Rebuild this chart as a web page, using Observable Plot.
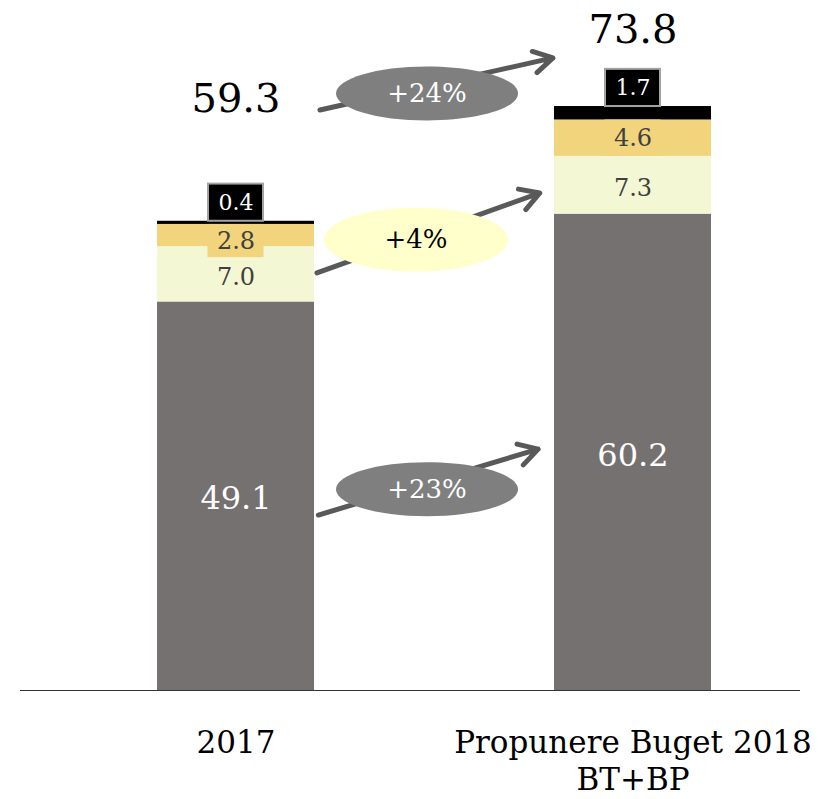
<!DOCTYPE html>
<html><head><meta charset="utf-8">
<script src="https://cdn.jsdelivr.net/npm/d3@7"></script>
<script src="https://cdn.jsdelivr.net/npm/@observablehq/plot@0.6"></script>
<style>body{margin:0;background:#fff} #chart svg{display:block}</style>
</head><body><div id="chart"></div>
<script>
const categories = ["2017", "Propunere Buget 2018\nBT+BP"];
const values2017 = [49.1, 7.0, 2.8, 0.4];
const values2018 = [60.2, 7.3, 4.6, 1.7];
const labels2017 = ["49.1", "7.0", "2.8", "0.4"];
const labels2018 = ["60.2", "7.3", "4.6", "1.7"];
const totals = [59.3, 73.8];
const totalLabels = ["59.3", "73.8"];
const growthLabels = ["+23%", "+4%", "+24%"];
const segmentColors = ["#767171", "#F4F7D4", "#F1D47B", "#000000"];
const labelColors = ["#ffffff", "#404040", "#404040", "#ffffff"];

const FONT = "DejaVu Serif";

// table of stacked segments
const rows = [];
[values2017, values2018].forEach((vals, i) => {
  let acc = 0;
  vals.forEach((v, j) => {
    rows.push({cat: categories[i], seg: j, value: v,
      label: (i ? labels2018 : labels2017)[j],
      y1: acc, y2: acc + v, mid: acc + v / 2});
    acc += v;
  });
});
const segRows = rows.filter(d => d.seg < 2);
const goldRows = rows.filter(d => d.seg === 2).map(d => ({...d, b1: Math.min(d.y1, d.y2 - 4.2), b2: d.y2}));
const blackRows = rows.filter(d => d.seg === 3).map(d => ({...d, b1: d.y2, b2: d.y2 + 4.7}));
const totalRows = totals.map((t, i) => ({cat: categories[i], total: t, label: totalLabels[i]}));

// growth annotations linking the two bars
const growth = [
  {label: growthLabels[0], from: rows[0].mid - 5.5, to: rows[4].mid + 4, kind: "gray"},
  {label: growthLabels[1], from: rows[1].y1, to: rows[5].y2 - 0.4, kind: "yellow"},
  {label: growthLabels[2], from: totals[0] + 11.7, to: totals[1] + 8.4, kind: "gray", top: true}
].map(d => ({...d, midY: (d.from + d.to) / 2}));

function ellipseSymbol(rx, ry) {
  const k = 0.5523;
  return {draw(ctx) {
    ctx.moveTo(rx, 0);
    ctx.bezierCurveTo(rx, ry * k, rx * k, ry, 0, ry);
    ctx.bezierCurveTo(-rx * k, ry, -rx, ry * k, -rx, 0);
    ctx.bezierCurveTo(-rx, -ry * k, -rx * k, -ry, 0, -ry);
    ctx.bezierCurveTo(rx * k, -ry, rx, -ry * k, rx, 0);
    ctx.closePath();
  }};
}

const c0 = () => categories[0];
const c1 = () => categories[1];

const chart = Plot.plot({
  width: 826,
  height: 799,
  marginTop: 0,
  marginBottom: 109,
  marginLeft: 20,
  marginRight: 26,
  style: {fontFamily: FONT, background: "#fff", color: "#000"},
  x: {domain: categories, range: [157, 711], paddingInner: 0.6045, paddingOuter: 0, round: false, label: null},
  y: {domain: [0, 87.2], axis: null},
  color: {type: "identity"},
  marks: [
    Plot.axisX({tickSize: 0, tickPadding: 37, fontSize: 31, lineHeight: 1.18, fontFamily: FONT, fill: "#000", label: null}),
    Plot.barY(rows, {x: "cat", y1: "y1", y2: "y2", fill: d => segmentColors[d.seg]}),
    Plot.ruleY([0], {stroke: "#333", strokeWidth: 1.2}),
    // gold label boxes
    Plot.barY(goldRows, {x: "cat", y1: "b1", y2: "b2", fill: segmentColors[2], insetLeft: 50.5, insetRight: 50.5}),
    Plot.text(goldRows, {x: "cat", y: d => (d.b1 + d.b2) / 2, text: "label", fill: labelColors[2], fontSize: 24, fontFamily: FONT}),
    // black label boxes
    Plot.barY(blackRows, {x: "cat", y1: "b1", y2: "b2", fill: "#000", stroke: "#A3A3A3", strokeWidth: 2, insetLeft: 51, insetRight: 51}),
    Plot.text(blackRows, {x: "cat", y: d => (d.b1 + d.b2) / 2, text: "label", fill: labelColors[3], fontSize: 22, fontFamily: FONT}),
    // segment labels
    Plot.text(segRows, {x: "cat", y: "mid", text: "label", fill: d => labelColors[d.seg], fontSize: d => d.seg === 0 ? 32 : 24, fontFamily: FONT, dy: 3}),
    // totals
    Plot.text(totalRows.filter((d, i) => i === 0), {x: "cat", y: "total", text: "label", fontSize: 40, fontFamily: FONT, fill: "#000", dy: -122}),
    Plot.text(totalRows.filter((d, i) => i === 1), {x: "cat", y: "total", text: "label", fontSize: 40, fontFamily: FONT, fill: "#000", dy: -76}),
    // growth arrows
    Plot.arrow(growth.filter(d => !d.top), {x1: c0, x2: c1, y1: "from", y2: "to", stroke: "#595959", strokeWidth: 5, headLength: 6.5, insetStart: 86, insetEnd: 99}),
    Plot.arrow(growth.filter(d => d.top), {x1: c0, x2: c1, y1: "from", y2: "to", stroke: "#595959", strokeWidth: 5, headLength: 6.5, insetStart: 86, insetEnd: 82}),
    // ellipses
    Plot.dot(growth.filter(d => d.kind === "gray"), {x: c0, y: "midY", r: 10, symbol: ellipseSymbol(91, 27), fill: "#7F7F7F", stroke: "none", dx: 191, dy: 9}),
    Plot.dot(growth.filter(d => d.kind === "yellow"), {x: c0, y: "midY", r: 10, symbol: ellipseSymbol(92, 32), fill: "#FFFFCC", stroke: "none", dx: 180, dy: 9}),
    Plot.text(growth.filter(d => d.kind === "gray"), {x: c0, y: "midY", text: "label", fill: "#fff", fontSize: 26, fontFamily: FONT, dx: 191, dy: 9}),
    Plot.text(growth.filter(d => d.kind === "yellow"), {x: c0, y: "midY", text: "label", fill: "#000", fontSize: 26, fontFamily: FONT, dx: 180, dy: 9})
  ]
});
document.getElementById("chart").appendChild(chart);
</script>
</body></html>
